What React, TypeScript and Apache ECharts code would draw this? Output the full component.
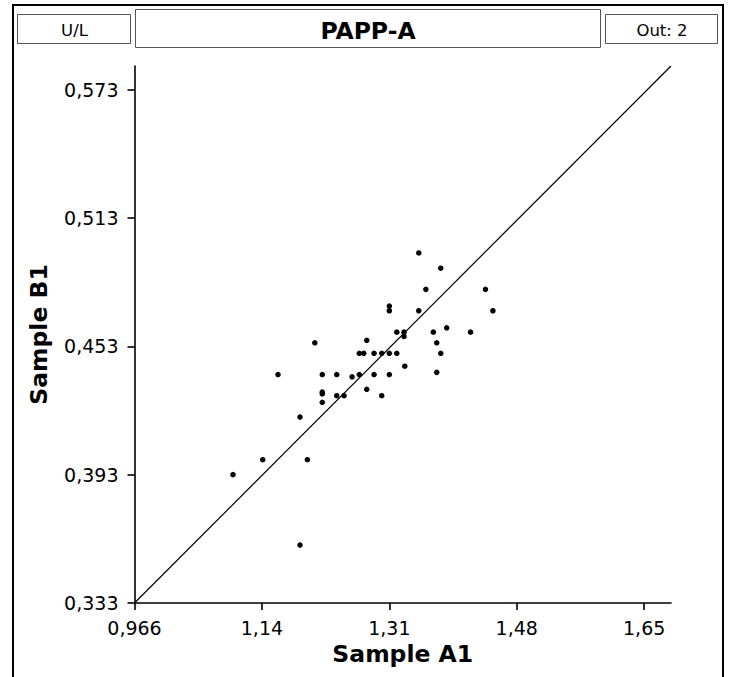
import React, { useEffect, useRef } from "react";
import * as echarts from "echarts";

const xValues = [
  1.3475, 1.377, 1.357, 1.437, 1.308, 1.308, 1.3475, 1.447, 1.385, 1.318,
  1.3277, 1.3277, 1.367, 1.417, 1.208, 1.2777, 1.3716, 1.2677, 1.2737, 1.2875,
  1.2978, 1.308, 1.318, 1.377, 1.3287, 1.1586, 1.218, 1.2374, 1.258, 1.2677,
  1.2875, 1.308, 1.3716, 1.2777, 1.218, 1.218, 1.218, 1.2374, 1.2472, 1.2978,
  1.1881, 1.0982, 1.1381, 1.198, 1.1881,
];
const yValues = [
  0.4966, 0.4895, 0.4796, 0.4796, 0.4718, 0.4696, 0.4696, 0.4696, 0.4616, 0.4596,
  0.4596, 0.4576, 0.4596, 0.4596, 0.4546, 0.4558, 0.4546, 0.4497, 0.4497, 0.4497,
  0.4497, 0.4497, 0.4497, 0.4497, 0.4437, 0.4398, 0.4398, 0.4398, 0.4387, 0.4398,
  0.4398, 0.4398, 0.4408, 0.4329, 0.4316, 0.4307, 0.4268, 0.4299, 0.4299, 0.4299,
  0.4199, 0.393, 0.4, 0.4, 0.3601,
];
const xTicks = [0.966, 1.137, 1.308, 1.479, 1.65];
const yTicks = [0.333, 0.393, 0.453, 0.513, 0.573];
const xRange = [0.966, 1.686];
const yRange = [0.333, 0.584];
const unitLabel = "U/L";
const titleText = "PAPP-A";
const outText = "Out: 2";
const xName = "Sample A1";
const yName = "Sample B1";

const FONT = "DejaVu Sans";
const fmt = (v: number) => Number(v).toPrecision(3).replace(".", ",");

export default function App() {
  const ref = useRef<HTMLDivElement>(null);
  useEffect(() => {
    if (!ref.current) return;
    const chart = echarts.init(ref.current, null, { renderer: "svg" });
    const points = xValues.map((x, i) => [x, yValues[i]]);
    chart.setOption({
      animation: false,
      backgroundColor: "#ffffff",
      textStyle: { fontFamily: FONT },
      grid: { left: 134.5, top: 66, right: 61, bottom: 74 },
      xAxis: {
        type: "value",
        min: xRange[0],
        max: xRange[1],
        name: xName,
        nameLocation: "middle",
        nameGap: 39,
        nameTextStyle: { fontFamily: FONT, fontSize: 23.5, fontWeight: "bold", color: "#000" },
        axisLine: { onZero: false, lineStyle: { color: "#000", width: 1.6 } },
        axisTick: { show: true, length: 7, customValues: xTicks, lineStyle: { color: "#000", width: 1.6 } },
        axisLabel: {
          customValues: xTicks,
          formatter: fmt,
          fontFamily: FONT,
          fontSize: 19,
          color: "#000",
          margin: 15,
        },
        splitLine: { show: false },
      },
      yAxis: {
        type: "value",
        min: yRange[0],
        max: yRange[1],
        name: yName,
        nameLocation: "middle",
        nameRotate: 90,
        nameGap: 84,
        nameTextStyle: { fontFamily: FONT, fontSize: 23.5, fontWeight: "bold", color: "#000" },
        axisLine: { onZero: false, lineStyle: { color: "#000", width: 1.6 } },
        axisTick: { show: true, length: 7, customValues: yTicks, lineStyle: { color: "#000", width: 1.6 } },
        axisLabel: {
          customValues: yTicks,
          formatter: fmt,
          fontFamily: FONT,
          fontSize: 19,
          color: "#000",
          margin: 16,
        },
        splitLine: { show: false },
      },
      graphic: [
        {
          type: "rect",
          shape: { x: 13, y: 5, width: 710, height: 720 },
          style: { fill: "none", stroke: "#000", lineWidth: 2 },
          silent: true,
        },
        {
          type: "rect",
          shape: { x: 17.5, y: 14.5, width: 113, height: 29 },
          style: { fill: "none", stroke: "#555", lineWidth: 1 },
        },
        {
          type: "rect",
          shape: { x: 135.5, y: 9.5, width: 465, height: 38 },
          style: { fill: "none", stroke: "#555", lineWidth: 1 },
        },
        {
          type: "rect",
          shape: { x: 605.5, y: 14.5, width: 112, height: 29 },
          style: { fill: "none", stroke: "#555", lineWidth: 1 },
        },
        {
          type: "text",
          x: 74.5,
          y: 30,
          style: { text: unitLabel, fontFamily: FONT, fontSize: 16.5, fill: "#000", align: "center", verticalAlign: "middle" },
        },
        {
          type: "text",
          x: 368,
          y: 31,
          style: { text: titleText, fontFamily: FONT, fontSize: 23.5, fontWeight: "bold", fill: "#000", align: "center", verticalAlign: "middle" },
        },
        {
          type: "text",
          x: 662,
          y: 30,
          style: { text: outText, fontFamily: FONT, fontSize: 16.5, fill: "#000", align: "center", verticalAlign: "middle" },
        },
      ],
      series: [
        {
          type: "line",
          data: [
            [xRange[0], yRange[0]],
            [xRange[1], yRange[1]],
          ],
          symbol: "none",
          lineStyle: { color: "#000", width: 1.2 },
          silent: true,
          z: 1,
        },
        {
          type: "scatter",
          data: points,
          symbolSize: 5.5,
          itemStyle: { color: "#000", opacity: 1 },
          z: 2,
        },
      ],
    });
    return () => chart.dispose();
  }, []);
  return (
    <div
      ref={ref}
      style={{ position: "fixed", left: 0, top: 0, width: 732, height: 677, background: "#fff" }}
    />
  );
}
